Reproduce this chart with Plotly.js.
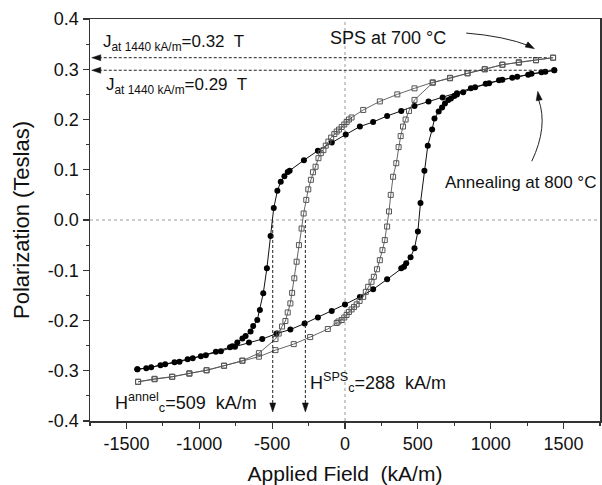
<!DOCTYPE html>
<html>
<head>
<meta charset="utf-8">
<script src="https://cdn.plot.ly/plotly-3.0.1.min.js"></script>
<style>html,body{margin:0;padding:0;background:#fff;}#chart{width:602px;height:485px;}</style>
</head>
<body>
<div id="chart"></div>
<script>
// Annealed at 800 °C (filled circles): descending branch then ascending branch
const annDownX = [1436,1348,1257,1148,1057,966,864,768,670,573,477,386,289,193,102,5,-91,-186,-282,-380,-393,-416,-441,-464,-489,-511,-536,-561,-584,-602,-630,-648,-682,-704,-739,-773,-789,-886,-989,-1080,-1170,-1266,-1364,-1425];
const annDownY = [0.298,0.294,0.289,0.283,0.278,0.271,0.262,0.252,0.244,0.236,0.227,0.217,0.207,0.195,0.186,0.170,0.154,0.138,0.119,0.098,0.0955,0.087,0.076,0.058,0.024,-0.032,-0.096,-0.146,-0.179,-0.199,-0.211,-0.222,-0.231,-0.236,-0.244,-0.251,-0.253,-0.262,-0.271,-0.277,-0.283,-0.289,-0.295,-0.297];
const annUpX = [-1425,-1330,-1234,-1136,-1045,-955,-852,-755,-659,-568,-470,-375,-277,-186,-91,0,102,193,289,386,405,420,450,477,500,518,545,568,598,614,643,666,686,709,727,750,768,811,893,989,1080,1182,1280,1375,1436];
const annUpY = [-0.297,-0.293,-0.287,-0.282,-0.275,-0.269,-0.261,-0.252,-0.244,-0.237,-0.226,-0.218,-0.206,-0.194,-0.181,-0.168,-0.153,-0.138,-0.118,-0.096,-0.093,-0.086,-0.074,-0.056,-0.023,0.034,0.098,0.148,0.180,0.202,0.216,0.224,0.232,0.239,0.242,0.247,0.250,0.254,0.264,0.272,0.279,0.285,0.291,0.295,0.298];

// SPS at 700 °C (open squares): descending branch then ascending branch
const spsDownX = [1428,1311,1193,1080,959,841,721,602,477,359,239,125,45,27,11,-5,-23,-41,-57,-73,-95,-114,-132,-148,-166,-182,-202,-220,-234,-252,-266,-284,-298,-316,-332,-348,-363,-375,-393,-409,-432,-455,-477,-591,-704,-830,-950,-1068,-1186,-1307,-1420];
const spsDownY = [0.323,0.318,0.313,0.309,0.300,0.292,0.282,0.274,0.262,0.250,0.236,0.219,0.204,0.200,0.195,0.190,0.185,0.180,0.176,0.171,0.164,0.156,0.148,0.139,0.133,0.123,0.106,0.095,0.080,0.061,0.040,0.013,-0.017,-0.050,-0.083,-0.116,-0.145,-0.166,-0.184,-0.201,-0.212,-0.226,-0.237,-0.265,-0.280,-0.290,-0.299,-0.305,-0.312,-0.316,-0.322];
const spsUpX = [-1420,-1307,-1186,-1068,-950,-830,-704,-591,-477,-352,-239,-118,-57,-45,-23,-5,11,27,45,62,80,100,125,143,159,182,198,220,239,257,273,289,302,314,330,352,368,382,398,416,439,477,602,721,841,959,1080,1193,1311,1428];
const spsUpY = [-0.322,-0.317,-0.312,-0.306,-0.299,-0.290,-0.280,-0.272,-0.259,-0.247,-0.233,-0.217,-0.205,-0.202,-0.199,-0.194,-0.189,-0.183,-0.178,-0.173,-0.168,-0.161,-0.153,-0.143,-0.133,-0.123,-0.113,-0.098,-0.080,-0.060,-0.040,-0.013,0.017,0.050,0.086,0.113,0.145,0.167,0.186,0.200,0.217,0.239,0.273,0.283,0.292,0.300,0.309,0.314,0.318,0.323];

const xTickVals = [-1500,-1000,-500,0,500,1000,1500];
const xTickLabels = ['-1500','-1000','-500','0','500','1000','1500'];
const yTickVals = [-0.4,-0.3,-0.2,-0.1,0.0,0.1,0.2,0.3,0.4];
const yTickLabels = ['-0.4','-0.3','-0.2','-0.1','0.0','0.1','0.2','0.3','0.4'];

const J_sps = 0.323, J_ann = 0.298;   // J at 1440 kA/m (arrows)
const Hc_ann = -496, Hc_sps = -272;   // coercive field arrows

const FONT = '"Liberation Sans", Arial, Helvetica, sans-serif';

const traces = [
  {x: annDownX.concat(annUpX), y: annDownY.concat(annUpY), mode: 'lines+markers', type: 'scatter',
   line: {color: '#111', width: 1}, marker: {symbol: 'circle', size: 6, color: '#000'}, hoverinfo: 'skip'},
  {x: spsDownX.concat(spsUpX), y: spsDownY.concat(spsUpY), mode: 'lines+markers', type: 'scatter',
   line: {color: '#555', width: 0.9}, marker: {symbol: 'square-open', size: 5, color: '#555', line: {width: 1}}, hoverinfo: 'skip'}
];

const dashed = {color: '#222', width: 1, dash: '3px,2px'};
const dotted = {color: '#999', width: 1, dash: 'dot'};

// arrowhead triangles drawn in pixel units around an anchor point (y pixels point up)
function tri(x, y, path) {
  return {type: 'path', xref: 'x', yref: 'y', xsizemode: 'pixel', ysizemode: 'pixel',
          xanchor: x, yanchor: y, path: path, fillcolor: '#111', line: {color: '#111', width: 0.5}};
}

const shapes = [
  {type: 'line', xref: 'x', yref: 'y', x0: -1750, x1: 1750, y0: 0, y1: 0, line: dotted, layer: 'below'},
  {type: 'line', xref: 'x', yref: 'y', x0: 0, x1: 0, y0: -0.4, y1: 0.4, line: dotted, layer: 'below'},
  {type: 'line', xref: 'x', yref: 'y', x0: -1690, x1: 1400, y0: J_sps, y1: J_sps, line: dashed},
  {type: 'line', xref: 'x', yref: 'y', x0: -1690, x1: 1430, y0: J_ann, y1: J_ann, line: dashed},
  {type: 'line', xref: 'x', yref: 'y', x0: Hc_ann, x1: Hc_ann, y0: 0, y1: -0.365, line: dashed},
  {type: 'line', xref: 'x', yref: 'y', x0: Hc_sps, x1: Hc_sps, y0: 0, y1: -0.365, line: dashed},
  {type: 'path', xref: 'x', yref: 'y', path: 'M 832 0.372 Q 1094 0.366 1270 0.346', line: {color: '#222', width: 1}},
  {type: 'path', xref: 'x', yref: 'y', path: 'M 1282 0.117 Q 1395 0.186 1328 0.240', line: {color: '#222', width: 1}},
  tri(-1738, J_sps, 'M 0 0 L 9 3 L 9 -3 Z'),
  tri(-1738, J_ann, 'M 0 0 L 9 3 L 9 -3 Z'),
  tri(Hc_ann, -0.382, 'M 0 0 L -3 9 L 3 9 Z'),
  tri(Hc_sps, -0.382, 'M 0 0 L -3 9 L 3 9 Z'),
  tri(1300, 0.341, 'M 0 0 L -6.5 6.8 L -9.3 1.6 Z'),
  tri(1323, 0.256, 'M 0 0 L 4.4 -8.4 L -1.6 -9.4 Z')
];

const tf = {family: FONT, size: 17, color: '#111'};
const annotations = [
  {x: -1675, y: 0.352, xref: 'x', yref: 'y', xanchor: 'left', yanchor: 'middle', showarrow: false,
   text: 'J<sub>at 1440 kA/m</sub>=0.32&nbsp; T', font: tf},
  {x: -1654, y: 0.266, xref: 'x', yref: 'y', xanchor: 'left', yanchor: 'middle', showarrow: false,
   text: 'J<sub>at 1440 kA/m</sub>=0.29&nbsp; T', font: tf},
  {x: 295, y: 0.362, xref: 'x', yref: 'y', xanchor: 'center', yanchor: 'middle', showarrow: false,
   text: 'SPS at 700 °C', font: {family: FONT, size: 18, color: '#111'}},
  {x: 1201, y: 0.074, xref: 'x', yref: 'y', xanchor: 'center', yanchor: 'middle', showarrow: false,
   text: 'Annealing at 800 °C', font: tf},
  {x: -1592, y: -0.364, xref: 'x', yref: 'y', xanchor: 'left', yanchor: 'middle', showarrow: false,
   text: 'H<sup>annel</sup><sub>c</sub>=509&nbsp; kA/m', font: {family: FONT, size: 18, color: '#111'}},
  {x: -254, y: -0.324, xref: 'x', yref: 'y', xanchor: 'left', yanchor: 'middle', showarrow: false,
   text: 'H<sup>SPS</sup><sub>c</sub>=288&nbsp; kA/m', font: {family: FONT, size: 18, color: '#111'}}
];

const axisCommon = {
  showline: true, linecolor: '#333', linewidth: 1.5, mirror: true, showgrid: false, zeroline: false,
  ticks: 'outside', ticklen: 6, tickwidth: 1.2, tickcolor: '#333',
  tickfont: {family: FONT, size: 18, color: '#111'}
};

const layout = {
  width: 602, height: 485,
  margin: {l: 90, r: 2, t: 19, b: 64},
  paper_bgcolor: '#fff', plot_bgcolor: '#fff',
  showlegend: false,
  xaxis: Object.assign({}, axisCommon, {
    range: [-1750, 1750], tickmode: 'array', tickvals: xTickVals, ticktext: xTickLabels,
    minor: {dtick: 250, tick0: 0, ticks: 'outside', ticklen: 3, tickwidth: 1.2, tickcolor: '#333'},
    title: {text: 'Applied Field&nbsp; (kA/m)', font: {family: FONT, size: 21, color: '#111'}, standoff: 14}
  }),
  yaxis: Object.assign({}, axisCommon, {
    range: [-0.4, 0.4], tickmode: 'array', tickvals: yTickVals, ticktext: yTickLabels,
    minor: {dtick: 0.05, tick0: 0, ticks: 'outside', ticklen: 3, tickwidth: 1.2, tickcolor: '#333'},
    title: {text: 'Polarization (Teslas)', font: {family: FONT, size: 22, color: '#111'}, standoff: 12}
  }),
  shapes: shapes,
  annotations: annotations
};

Plotly.newPlot('chart', traces, layout, {staticPlot: true, displayModeBar: false});
</script>
</body>
</html>
